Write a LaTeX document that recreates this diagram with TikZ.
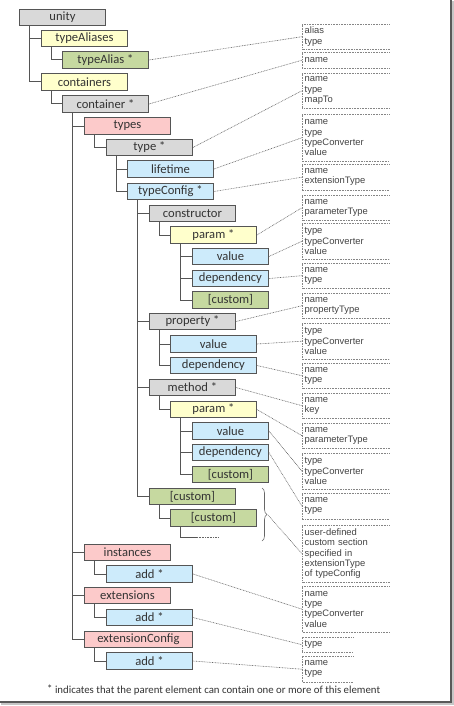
\documentclass[tikz,border=0pt]{standalone}
\usepackage{fontspec}
\setmainfont{Carlito}
\newfontfamily\attrfont{Liberation Sans}
\usetikzlibrary{decorations.pathreplacing}
\pgfdeclarelayer{background}
\pgfsetlayers{background,main}
\definecolor{bxgray}{HTML}{D9D9D9}
\definecolor{bxyellow}{HTML}{FFFFCC}
\definecolor{bxgreen}{HTML}{C6D9A0}
\definecolor{bxpink}{HTML}{FCCACA}
\definecolor{bxblue}{HTML}{CDEBFB}
\definecolor{bxline}{HTML}{555555}
\definecolor{txt}{HTML}{333333}
\definecolor{attrtxt}{HTML}{444444}
\definecolor{dotline}{HTML}{666666}
\begin{document}
\begin{tikzpicture}[x=1pt,y=-1pt,
  tbox/.style={draw=bxline, line width=0.9pt, minimum width=86pt, minimum height=16.5pt,
    inner sep=0pt, anchor=west, font=\fontsize{12.6}{12.6}\selectfont, text=txt},
  gbox/.style={tbox, fill=bxgray},
  ybox/.style={tbox, fill=bxyellow},
  grbox/.style={tbox, fill=bxgreen},
  pbox/.style={tbox, fill=bxpink},
  bbox/.style={tbox, fill=bxblue},
  narrow/.style={minimum width=76pt},
  attr/.style={anchor=north west, inner xsep=2.5pt, inner ysep=0pt, text width=82pt,
    align=left, font=\attrfont\fontsize{9.4}{10.3}\selectfont, text=attrtxt},
  attrn/.style={attr, text width=46pt},
  tree/.style={draw=bxline, line width=1pt},
  dotc/.style={draw=dotline, line width=0.6pt, dash pattern=on 0.8pt off 0.8pt},
  dotb/.style={draw=dotline!80, line width=0.6pt, dash pattern=on 0.8pt off 0.8pt},
]
\useasboundingbox (0,0) rectangle (454,706);
\begin{pgfonlayer}{background}
\fill[white] (0,0) rectangle (454,706);
\draw[gray!45, line width=2pt] (453,1) -- (453,704) -- (1,704);
\draw[black!65, line width=1.6pt] (450.8,0) -- (450.8,701.8) -- (0,701.8);
\end{pgfonlayer}

% ---- tree nodes
\node[gbox]  (unity)   at (19,17.5)  {unity};
\node[ybox]  (tas)     at (41,38.5)  {typeAliases};
\node[grbox] (ta)      at (62,60)    {typeAlias *};
\node[ybox]  (cs)      at (41,82)    {containers};
\node[gbox]  (c)       at (62,104)   {container *};
\node[pbox]  (types)   at (84,126)   {types};
\node[gbox]  (type)    at (106,147.5){type *};
\node[bbox]  (life)    at (127,169)  {lifetime};
\node[bbox]  (tc)      at (127,191.5){typeConfig *};
\node[gbox]  (ctor)    at (149,213.5){constructor};
\node[ybox]  (p1)      at (170,235)  {param *};
\node[bbox,narrow]  (v1)  at (192,256.5){value};
\node[bbox,narrow]  (d1)  at (192,278.5){dependency};
\node[grbox,narrow] (cu1) at (192,300)  {[custom]};
\node[gbox]  (prop)    at (149,321.5){property *};
\node[bbox]  (v2)      at (170,344)  {value};
\node[bbox]  (d2)      at (170,365.5){dependency};
\node[gbox]  (meth)    at (149,387.5){method *};
\node[ybox]  (p2)      at (170,409.5){param *};
\node[bbox,narrow]  (v3)  at (192,431)  {value};
\node[bbox,narrow]  (d3)  at (192,452.5){dependency};
\node[grbox,narrow] (cu2) at (192,474.5){[custom]};
\node[grbox] (cu3)     at (149,496.5){[custom]};
\node[grbox] (cu4)     at (170,518)  {[custom]};
\node[pbox]  (inst)    at (84,552.5) {instances};
\node[bbox]  (add1)    at (106,574)  {add *};
\node[pbox]  (ext)     at (84,595.5) {extensions};
\node[bbox]  (add2)    at (106,617.5){add *};
\node[pbox,minimum width=108pt] (extc) at (84,639.5){extensionConfig};
\node[bbox]  (add3)    at (106,661)  {add *};
\coordinate (ce1) at (197,537);
\coordinate (ce2) at (218,537);

% ---- tree connectors (behind boxes)
\begin{pgfonlayer}{background}
\foreach \p/\ch in {unity/tas, unity/cs, tas/ta, cs/c, c/types, c/inst, c/ext, c/extc,
  types/type, type/life, type/tc, tc/ctor, tc/prop, tc/meth, tc/cu3, ctor/p1,
  p1/v1, p1/d1, p1/cu1, prop/v2, prop/d2, meth/p2, p2/v3, p2/d3, p2/cu2, cu3/cu4,
  inst/add1, ext/add2, extc/add3}
  {\draw[tree] ([xshift=10.5pt]\p.south west) |- (\ch.west);}
\draw[tree] ([xshift=10.5pt]cu4.south west) |- (ce1);
\draw[dotc, line width=0.9pt] (ce1) -- (ce2);
\end{pgfonlayer}

% ---- attribute boxes
\node[attr, minimum height=25pt] (a1) at (302,24) {alias\\type};
\node[attr, minimum height=16pt] (a2) at (302,52) {name};
\node[attr, minimum height=35pt] (a3) at (302,73) {name\\type\\mapTo};
\node[attr, minimum height=47pt] (a4) at (302,114) {name\\type\\typeConverter\\value};
\node[attr, minimum height=26pt] (a5) at (302,164) {name\\extensionType};
\node[attr, minimum height=25pt] (a6) at (302,195) {name\\parameterType};
\node[attr, minimum height=36pt] (a7) at (302,223) {type\\typeConverter\\value};
\node[attr, minimum height=25pt] (a8) at (302,263) {name\\type};
\node[attr, minimum height=25pt] (a9) at (302,293) {name\\propertyType};
\node[attr, minimum height=36pt] (a10) at (302,323) {type\\typeConverter\\value};
\node[attr, minimum height=25pt] (a11) at (302,363) {name\\type};
\node[attr, minimum height=25pt] (a12) at (302,393) {name\\key};
\node[attr, minimum height=25pt] (a13) at (302,423) {name\\parameterType};
\node[attr, minimum height=36pt] (a14) at (302,453) {type\\typeConverter\\value};
\node[attr, minimum height=26pt] (a15) at (302,493) {name\\type};
\node[attr, minimum height=57pt] (a16) at (302,525) {user-defined\\custom section\\specified in\\extensionType\\of typeConfig};
\node[attr, minimum height=46pt] (a17) at (302,586) {name\\type\\typeConverter\\value};
\node[attrn, minimum height=15pt] (a18) at (302,637) {type};
\node[attrn, minimum height=26pt] (a19) at (302,656) {name\\type};
\foreach \a in {a1,a2,a3,a4,a5,a6,a7,a8,a9,a10,a11,a12,a13,a14,a15,a16,a17,a18,a19}
  {\draw[dotb] (\a.north east) -- (\a.north west) -- (\a.south west) -- (\a.south east);}

% ---- brace
\coordinate (bt) at (262,488);
\coordinate (bb) at (262,541);
\coordinate (btip) at (268,515);
\draw[dotline, line width=0.6pt, decorate, decoration={brace, amplitude=5pt}] (bt) -- (bb);

% ---- attribute connectors
\foreach \s/\t in {ta/a1, c/a2, type/a3, life/a4, tc/a5, p1/a6, v1/a7, d1/a8, prop/a9,
  v2/a10, d2/a11, meth/a12, p2/a13, v3/a14, d3/a15, add1/a17, add2/a18, add3/a19}
  {\draw[dotc] (\s.east) -- (\t.west);}
\draw[dotc] (btip) -- (a16.west);

% ---- footnote
\node[anchor=west, inner sep=0pt, font=\fontsize{10.8}{11}\selectfont, text=txt] (note) at (47,690)
  {\raisebox{1.5pt}{*} indicates that the parent element can contain one or more of this element};
\end{tikzpicture}
\end{document}
